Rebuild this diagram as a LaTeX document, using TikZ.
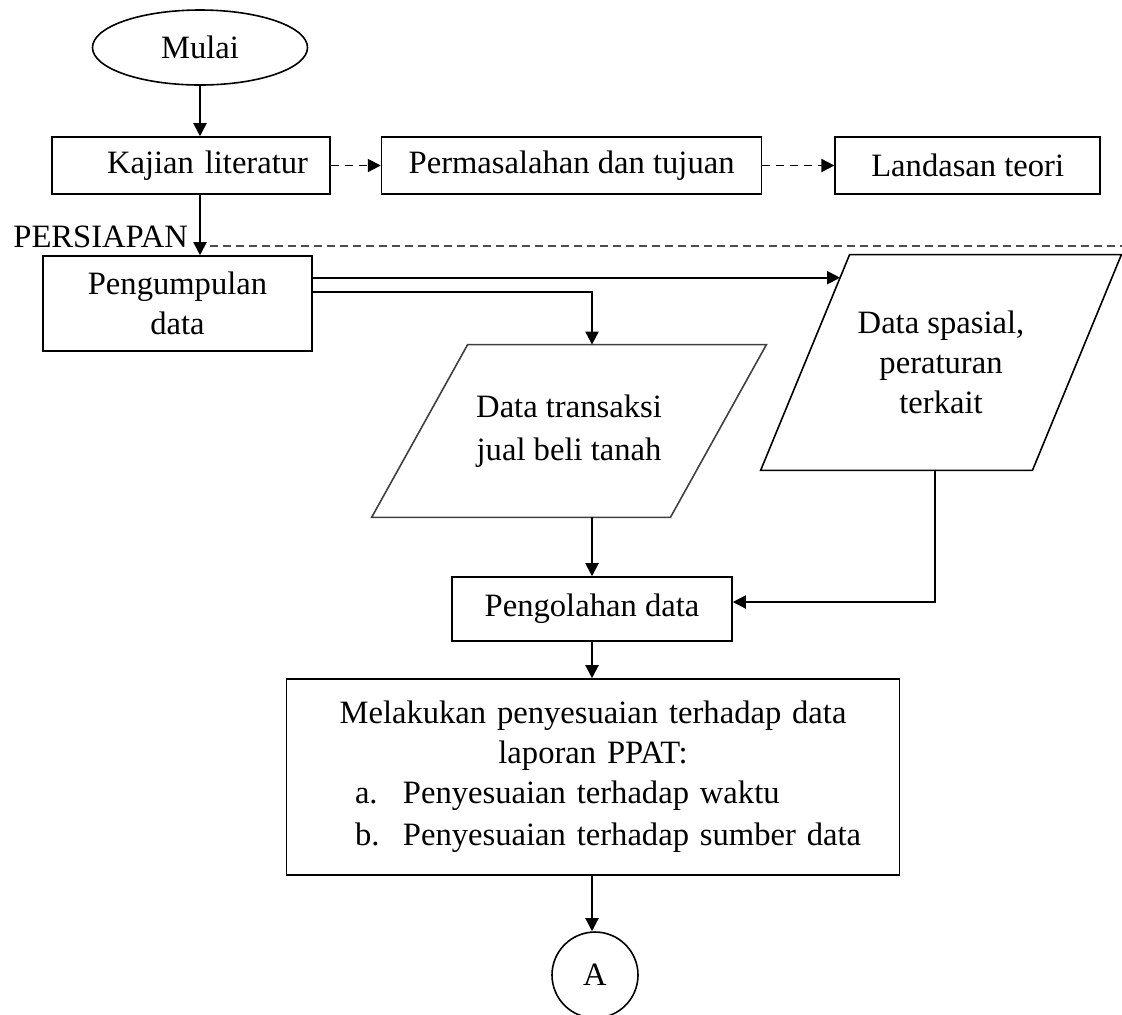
\documentclass[tikz,border=0pt]{standalone}
\usepackage{fontspec}
\setmainfont{Liberation Serif}
\usetikzlibrary{shapes.geometric, positioning, arrows.meta, calc}

\tikzset{
  blok/.style={draw, rectangle, line width=0.8pt, align=center},
  datain/.style={rectangle, inner sep=0pt, align=center},
  garis/.style={line width=0.8pt, line join=miter},
  panah/.style={->, line width=1pt},
  putus/.style={->, line width=0.9pt, dash pattern=on 4pt off 3pt},
}

\begin{document}
\begin{tikzpicture}[x=0.5pt, y=-0.5pt, >={Triangle[length=6.5pt, width=6.5pt]},
  font=\fontsize{16.3}{20}\selectfont]
\useasboundingbox (0,0) rectangle (1122,1014);

\node[draw, ellipse, line width=0.8pt, minimum width=107.5pt, minimum height=37.5pt] (mulai) at (200,47.5) {Mulai};
\node[blok, minimum height=28.5pt, text width=117pt, inner xsep=11pt, align=right] (kajian) at (191,165.5) {Kajian literatur};
\node[blok, right=25pt of kajian, minimum width=190pt, minimum height=28.5pt] (masalah) {Permasalahan dan tujuan};
\node[blok, right=36pt of masalah, minimum width=132.5pt, minimum height=28.5pt] (teori) {Landasan teori};

\node[anchor=base west, inner sep=0pt] (persiapan) at (13,247) {PERSIAPAN};
\draw[black!70, line width=0.6pt, dash pattern=on 4pt off 2.5pt] (210,246) -- (1122,246);

\node[blok, minimum width=134.5pt, minimum height=47.5pt] (kumpul) at (177.5,303.5) {Pengumpulan\\data};

% data masukan (jajaran genjang)
\node[datain, minimum width=180pt, minimum height=107.5pt] (spasial) at (941,362.5) {Data spasial,\\peraturan\\terkait};
\draw[garis] ([xshift=44.5pt]spasial.north west) -- (spasial.north east)
  -- ([xshift=-44.5pt]spasial.south east) -- (spasial.south west) -- cycle;
\node[datain, minimum width=197pt, minimum height=86pt,
  font=\fontsize{16.3}{21.5}\selectfont] (transaksi) at (569,431) {Data transaksi\\jual beli tanah};
\draw[garis, black!75] ([xshift=48pt]transaksi.north west) -- (transaksi.north east)
  -- ([xshift=-48pt]transaksi.south east) -- (transaksi.south west) -- cycle;

\node[blok, minimum width=140pt, minimum height=32pt] (olah) at (592,609) {Pengolahan data};
\node[blok, text width=300pt, minimum height=98pt] (sesuai) at (593,777) {Melakukan penyesuaian terhadap data\\laporan PPAT:\\
  \makebox[\linewidth][l]{\hspace{31pt}\makebox[24pt][l]{a.}Penyesuaian terhadap waktu}\\[1pt]
  \makebox[\linewidth][l]{\hspace{31pt}\makebox[24pt][l]{b.}Penyesuaian terhadap sumber data}};
\node[draw, circle, line width=0.8pt, minimum size=43pt, inner sep=0pt] (konA) at (595,975) {A};

% connectors
\draw[panah] (mulai) -- (mulai |- kajian.north);
\draw[putus] (kajian) -- (masalah);
\draw[putus] (masalah) -- (teori);
\draw[panah] (mulai |- kajian.south) -- (mulai |- kumpul.north);

\coordinate (spmasuk) at ($([xshift=44.5pt]spasial.north west)!0.107!(spasial.south west)$);
\coordinate (spkeluar) at ($(spasial.south west)!0.64!([xshift=-44.5pt]spasial.south east)$);
\draw[panah] (kumpul.east |- spmasuk) -- (spmasuk);
\draw[panah] ([yshift=5.75pt]kumpul.east) -| (olah.north |- transaksi.north);
\draw[panah] (olah.north |- transaksi.south) -- (olah.north);
\draw[panah] (spkeluar) |- ([yshift=3.5pt]olah.east);
\draw[panah] (olah) -- (olah |- sesuai.north);
\draw[panah] (olah |- sesuai.south) -- (olah |- konA.north);
\end{tikzpicture}
\end{document}
